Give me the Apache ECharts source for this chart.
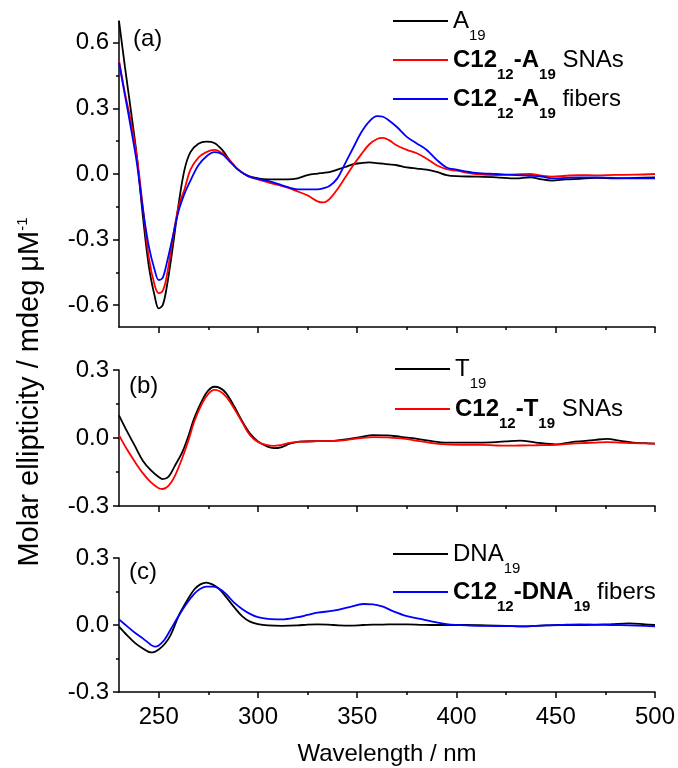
<!DOCTYPE html>
<html>
<head>
<meta charset="utf-8">
<script src="https://cdn.jsdelivr.net/npm/echarts@6/dist/echarts.min.js"></script>
<style>html,body{margin:0;padding:0;background:#fff}#c{width:678px;height:768px}</style>
</head>
<body>
<div id="c"></div>
<script>
// ---------- data ----------
const wavelengthsA = [230,233,236,239,242,245,248,250,252,254,257,260,263,266,270,274,278,282,286,290,295,300,305,310,315,320,325,330,333,336,340,344,348,352,356,360,363,366,370,375,380,385,390,395,400,410,420,430,437,443,448,455,462,470,480,490,500];
const a19 = [0.70,0.49,0.29,0.08,-0.19,-0.42,-0.56,-0.615,-0.60,-0.52,-0.34,-0.14,0.02,0.10,0.138,0.148,0.142,0.11,0.06,0.02,-0.008,-0.02,-0.025,-0.025,-0.025,-0.02,-0.005,0.002,0.005,0.009,0.02,0.032,0.045,0.05,0.053,0.05,0.047,0.044,0.04,0.03,0.025,0.02,0.01,-0.005,-0.01,-0.012,-0.015,-0.02,-0.015,-0.025,-0.03,-0.025,-0.022,-0.018,-0.02,-0.018,-0.016];
const c12A19Snas = [0.52,0.37,0.24,0.08,-0.15,-0.38,-0.51,-0.545,-0.535,-0.47,-0.30,-0.15,-0.07,0.02,0.075,0.10,0.11,0.095,0.06,0.02,-0.01,-0.025,-0.038,-0.05,-0.062,-0.08,-0.098,-0.125,-0.13,-0.115,-0.07,-0.015,0.04,0.09,0.135,0.16,0.165,0.155,0.13,0.11,0.095,0.07,0.04,0.022,0.015,0.0,-0.005,-0.002,0.0,-0.008,-0.012,-0.008,-0.005,-0.006,-0.004,-0.003,0.0];
const c12A19Fibers = [0.51,0.36,0.21,0.05,-0.16,-0.33,-0.44,-0.485,-0.475,-0.41,-0.29,-0.17,-0.09,-0.03,0.04,0.08,0.10,0.09,0.055,0.02,-0.01,-0.022,-0.032,-0.045,-0.06,-0.07,-0.07,-0.07,-0.065,-0.055,-0.02,0.05,0.12,0.19,0.24,0.265,0.262,0.245,0.215,0.17,0.14,0.11,0.065,0.03,0.02,0.005,0.0,-0.005,-0.008,-0.012,-0.02,-0.018,-0.015,-0.016,-0.018,-0.02,-0.02];

const wavelengthsB = [230,234,238,242,246,250,252,255,258,262,265,268,272,275,278,281,284,288,292,296,300,304,308,312,316,321,330,338,345,352,358,365,372,378,386,395,405,412,420,425,432,440,450,458,465,470,476,482,489,495,500];
const t19 = [0.10,0.03,-0.035,-0.10,-0.142,-0.172,-0.181,-0.17,-0.125,-0.06,0.01,0.09,0.168,0.21,0.226,0.22,0.197,0.14,0.075,0.02,-0.015,-0.035,-0.045,-0.04,-0.025,-0.016,-0.014,-0.013,-0.005,0.005,0.013,0.012,0.005,-0.001,-0.012,-0.02,-0.02,-0.02,-0.018,-0.015,-0.012,-0.02,-0.028,-0.018,-0.013,-0.008,-0.004,-0.012,-0.02,-0.023,-0.025];
const c12T19Snas = [0.013,-0.05,-0.105,-0.155,-0.195,-0.222,-0.225,-0.21,-0.17,-0.085,-0.01,0.075,0.155,0.195,0.212,0.205,0.182,0.13,0.07,0.012,-0.018,-0.03,-0.035,-0.03,-0.022,-0.016,-0.014,-0.013,-0.008,0.0,0.004,0.003,-0.002,-0.009,-0.02,-0.028,-0.03,-0.03,-0.033,-0.034,-0.033,-0.032,-0.03,-0.025,-0.022,-0.02,-0.018,-0.02,-0.023,-0.024,-0.025];

const wavelengthsC = [230,234,238,242,246,248,250,253,256,260,264,268,271,274,277,280,284,288,292,296,300,305,312,320,325,330,338,346,353,358,363,368,375,383,390,395,405,415,425,433,440,445,452,462,470,478,487,495,500];
const dna19 = [-0.007,-0.045,-0.08,-0.105,-0.123,-0.12,-0.11,-0.085,-0.045,0.04,0.105,0.16,0.182,0.19,0.182,0.165,0.125,0.08,0.04,0.015,0.004,-0.002,-0.004,-0.002,0.002,0.003,0.0,-0.003,0.0,0.002,0.002,0.003,0.003,0.001,0.0,0.0,0.0,-0.002,-0.004,-0.006,-0.004,-0.002,0.0,0.0,0.002,0.004,0.007,0.003,0.0];
const c12Dna19Fibers = [0.025,-0.005,-0.035,-0.06,-0.088,-0.097,-0.092,-0.065,-0.02,0.04,0.095,0.14,0.162,0.172,0.172,0.165,0.138,0.10,0.072,0.05,0.035,0.027,0.025,0.035,0.045,0.055,0.064,0.08,0.094,0.092,0.082,0.062,0.04,0.025,0.012,0.004,-0.002,-0.004,-0.005,-0.006,-0.004,-0.002,0.0,0.003,0.001,0.0,-0.002,-0.004,-0.006];

const xMajorTicks = [250,300,350,400,450,500];
const xMinorTicks = [275,325,375,425,475];
const yMajorTicksA = [-0.6,-0.3,0,0.3,0.6];
const yMinorTicksA = [-0.45,-0.15,0.15,0.45];
const yMajorTicksBC = [-0.3,0,0.3];
const yMinorTicksBC = [-0.15,0.15];

const seriesNames = ['A19','C12-A19 SNAs','C12-A19 fibers','T19','C12-T19 SNAs','DNA19','C12-DNA19 fibers'];
const legendLabels = {
  'A19': '{m|A}{s|19}',
  'C12-A19 SNAs': '{mb|C12}{sb|12}{mb|-A}{sb|19}{m| SNAs}',
  'C12-A19 fibers': '{mb|C12}{sb|12}{mb|-A}{sb|19}{m| fibers}',
  'T19': '{m|T}{s|19}',
  'C12-T19 SNAs': '{mb|C12}{sb|12}{mb|-T}{sb|19}{m| SNAs}',
  'DNA19': '{m|DNA}{s|19}',
  'C12-DNA19 fibers': '{mb|C12}{sb|12}{mb|-DNA}{sb|19}{m| fibers}'
};

// ---------- chart ----------
const FONT = 'Liberation Sans, Arial, sans-serif';
const BLACK = '#000000', RED = '#ff0000', BLUE = '#0000ff';
const grids = [
  {left:119, right:23, top:21, height:306},
  {left:119, right:23, top:370, height:136},
  {left:119, right:23, top:558, height:134}
];
const yRanges = [[-0.7,0.7],[-0.3,0.3],[-0.3,0.3]];
const yMajor = [yMajorTicksA, yMajorTicksBC, yMajorTicksBC];
const yMinor = [yMinorTicksA, yMinorTicksBC, yMinorTicksBC];

const axisLine = {show:true, onZero:false, lineStyle:{color:BLACK, width:1.5}};
const xAxes = [], yAxes = [];
for (let i = 0; i < 3; i++) {
  const main = {
    type:'value', gridIndex:i, min:230, max:500, position:'bottom',
    axisLine: axisLine,
    axisTick:{show:true, inside:false, length:6, lineStyle:{color:BLACK, width:1.5}, customValues:xMajorTicks},
    axisLabel:{show: i === 2, customValues:xMajorTicks, fontSize:24, color:BLACK, fontFamily:FONT, margin:13},
    splitLine:{show:false}
  };
  if (i === 2) {
    main.name = 'Wavelength / nm';
    main.nameLocation = 'middle';
    main.nameGap = 50;
    main.nameTextStyle = {fontSize:24, color:BLACK, fontFamily:FONT};
  }
  xAxes.push(main);
}
for (let i = 0; i < 3; i++) {
  xAxes.push({
    type:'value', gridIndex:i, min:230, max:500, position:'bottom',
    axisLine:{show:false, onZero:false},
    axisTick:{show:true, inside:false, length:3, lineStyle:{color:BLACK, width:1.5}, customValues:xMinorTicks},
    axisLabel:{show:false}, splitLine:{show:false}
  });
}
for (let i = 0; i < 3; i++) {
  yAxes.push({
    type:'value', gridIndex:i, min:yRanges[i][0], max:yRanges[i][1], position:'left',
    axisLine: axisLine,
    axisTick:{show:true, inside:false, length:6, lineStyle:{color:BLACK, width:1.5}, customValues:yMajor[i]},
    axisLabel:{show:true, customValues:yMajor[i], fontSize:24, color:BLACK, fontFamily:FONT, margin:10,
      formatter: v => Number(v).toFixed(1)},
    splitLine:{show:false}
  });
}
for (let i = 0; i < 3; i++) {
  yAxes.push({
    type:'value', gridIndex:i, min:yRanges[i][0], max:yRanges[i][1], position:'left',
    axisLine:{show:false, onZero:false},
    axisTick:{show:true, inside:false, length:3, lineStyle:{color:BLACK, width:1.5}, customValues:yMinor[i]},
    axisLabel:{show:false}, splitLine:{show:false}
  });
}

function mk(name, wl, vals, color, idx) {
  return {
    name: name, type:'line', xAxisIndex:idx, yAxisIndex:idx,
    data: wl.map((x,k) => [x, vals[k]]),
    symbol:'none', smooth:0.35,
    lineStyle:{color:color, width:1.8},
    itemStyle:{color:color}
  };
}
const series = [
  mk(seriesNames[0], wavelengthsA, a19, BLACK, 0),
  mk(seriesNames[1], wavelengthsA, c12A19Snas, RED, 0),
  mk(seriesNames[2], wavelengthsA, c12A19Fibers, BLUE, 0),
  mk(seriesNames[3], wavelengthsB, t19, BLACK, 1),
  mk(seriesNames[4], wavelengthsB, c12T19Snas, RED, 1),
  mk(seriesNames[5], wavelengthsC, dna19, BLACK, 2),
  mk(seriesNames[6], wavelengthsC, c12Dna19Fibers, BLUE, 2)
];

const rich = {
  m:{fontSize:24, lineHeight:44, verticalAlign:'middle', color:BLACK, fontFamily:FONT},
  mb:{fontSize:24, lineHeight:44, verticalAlign:'middle', color:BLACK, fontFamily:FONT, fontWeight:'bold'},
  s:{fontSize:15, lineHeight:15, verticalAlign:'bottom', color:BLACK, fontFamily:FONT},
  sb:{fontSize:15, lineHeight:15, verticalAlign:'bottom', color:BLACK, fontFamily:FONT, fontWeight:'bold'}
};
function legendFor(names, left, top, gap) {
  return {
    data: names, orient:'vertical', left:left, top:top, padding:0,
    icon:'rect', itemWidth:55, itemHeight:2, itemGap:gap, selectedMode:false,
    formatter: n => legendLabels[n],
    textStyle:{rich:rich, fontFamily:FONT, fontSize:24, color:BLACK}
  };
}

function label(txt, x, y) {
  return {type:'text', x:x, y:y, style:{text:txt, fontSize:24, fontFamily:FONT, fill:BLACK,
    verticalAlign:'middle', textVerticalAlign:'middle'}};
}

const option = {
  animation:false,
  backgroundColor:'#ffffff',
  grid: grids,
  xAxis: xAxes,
  yAxis: yAxes,
  series: series,
  legend: [
    legendFor(seriesNames.slice(0,3), 393, 9, 5),
    legendFor(seriesNames.slice(3,5), 395, 357, 6),
    legendFor(seriesNames.slice(5,7), 393, 542, 4)
  ],
  graphic: [
    label('(a)', 133, 39),
    label('(b)', 129, 386),
    label('(c)', 129, 572),
    {type:'text', x:30, y:392, rotation:Math.PI/2,
     style:{text:'{n|Molar ellipticity / mdeg \u03bcM}{p|-1}',
       rich:{
         n:{fontSize:29, lineHeight:30, verticalAlign:'middle', fontFamily:FONT, fill:BLACK, color:BLACK},
         p:{fontSize:15, lineHeight:15, verticalAlign:'top', fontFamily:FONT, fill:BLACK, color:BLACK}
       },
       fill:BLACK, fontFamily:FONT,
       align:'center', verticalAlign:'middle', textAlign:'center', textVerticalAlign:'middle'}}
  ]
};
const chart = echarts.init(document.getElementById('c'), null, {renderer:'canvas'});
chart.setOption(option);
</script>
</body>
</html>
